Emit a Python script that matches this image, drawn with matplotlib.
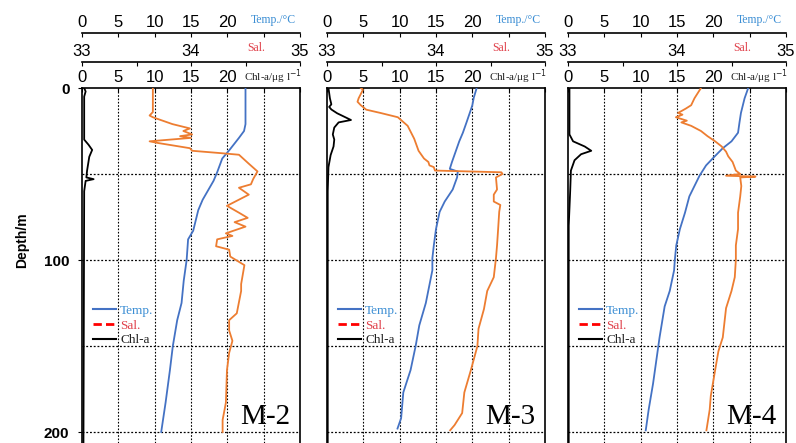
import numpy as np
import matplotlib
matplotlib.use("Agg")
import matplotlib.pyplot as plt
from matplotlib.lines import Line2D

# Station names
stations = ["M-2", "M-3", "M-4"]

# M-2 profiles (depth in m)
m2_temp_depth = [0, 21, 25, 29, 36, 41, 49, 54, 65, 71, 83, 88, 100, 112, 125, 135, 150, 164, 183, 200]
m2_temp = [22.5, 22.5, 22.3, 21.6, 20.3, 19.3, 18.6, 18.1, 16.6, 16.0, 15.3, 14.6, 14.4, 14.0, 13.7, 13.1, 12.5, 12.1, 11.5, 10.9]
m2_sal_depth = [0, 14, 16, 17, 21, 23.5, 25, 27, 28, 29, 31, 32, 35, 36.5, 37.8, 38.8, 44, 48.5, 53, 56,
                58, 62, 68.5, 72.5, 75.5, 78, 80.6, 84.5, 86, 88, 92, 94, 98, 103, 114, 118, 131, 135, 141, 147,
                154, 164, 183, 193, 200]
m2_sal = [33.65, 33.65, 33.62, 33.65, 33.83, 33.99, 33.93, 34.01, 33.90, 34.00, 33.62, 33.70, 33.99, 34.01, 34.26, 34.44, 34.53, 34.61, 34.57, 34.55,
          34.44, 34.53, 34.33, 34.44, 34.52, 34.40, 34.50, 34.32, 34.38, 34.24, 34.23, 34.35, 34.36, 34.49, 34.46, 34.46, 34.42, 34.35, 34.35, 34.38,
          34.35, 34.33, 34.32, 34.29, 34.29]
m2_chl_depth = [0, 2, 5, 30, 33, 36, 40, 48, 52, 53, 54, 60, 206]
m2_chl = [0.3, 0.5, 0.3, 0.3, 0.9, 1.4, 1.0, 0.7, 0.6, 1.6, 0.5, 0.3, 0.2]

# M-3 profiles
m3_temp_depth = [0, 5.6, 10, 12.6, 20, 26, 31, 37, 43, 47, 48.6, 52, 59, 66, 72, 82, 91.5, 99, 106, 125, 138, 150, 164, 177, 192, 198]
m3_temp = [20.6, 20.2, 20.0, 19.8, 19.2, 18.7, 18.2, 17.7, 17.2, 16.9, 18.0, 17.9, 17.3, 16.2, 15.5, 15.0, 14.7, 14.5, 14.5, 13.6, 12.7, 12.2, 11.5, 10.5, 10.2, 9.7]
m3_sal_depth = [0, 1, 6, 8, 10, 12.6, 14.5, 17, 22, 29.5, 36.5, 41, 43, 45, 46, 48, 49, 50, 52, 59,
                62, 66, 68, 72, 82, 91.5, 99, 110, 118, 128.5, 140, 150, 164, 177, 189, 196, 199]
m3_sal = [33.31, 33.33, 33.29, 33.28, 33.31, 33.36, 33.49, 33.65, 33.74, 33.80, 33.84, 33.89, 33.93, 33.94, 33.98, 33.99, 34.60, 34.61, 34.55, 34.56,
          34.53, 34.53, 34.59, 34.58, 34.57, 34.56, 34.55, 34.53, 34.47, 34.44, 34.39, 34.38, 34.32, 34.26, 34.24, 34.17, 34.13]
m3_chl_depth = [0, 6, 9.5, 11, 12.5, 14.7, 18.6, 20, 23, 27, 30, 34, 39, 46, 60, 206]
m3_chl = [0.2, 0.4, 0.6, 0.3, 0.6, 1.4, 3.3, 1.6, 1.0, 0.8, 1.0, 0.9, 0.5, 0.2, 0.1, 0.1]

# M-4 profiles
m4_temp_depth = [0, 6, 14.5, 20, 26, 31, 35, 39.7, 45, 51, 57, 63, 72.5, 82, 91.5, 100, 106, 118, 127, 145, 160, 172, 187, 199]
m4_temp = [24.8, 24.3, 23.8, 23.6, 23.4, 22.5, 21.3, 20.2, 19.0, 18.1, 17.4, 16.7, 16.1, 15.4, 14.9, 14.7, 14.6, 14.0, 13.3, 12.6, 12.1, 11.7, 11.1, 10.7]
m4_sal_depth = [0, 3, 6, 10, 12, 14.5, 15.5, 17, 19, 20, 22, 25, 28, 31, 34, 37, 39.7, 43, 48, 50,
                51, 51.5, 52, 57, 63, 72.5, 82, 91.5, 100, 110, 118, 128, 145, 153, 164, 179, 187, 199]
m4_sal = [34.22, 34.19, 34.16, 34.13, 34.08, 34.01, 34.05, 33.99, 34.09, 34.04, 34.13, 34.22, 34.28, 34.35, 34.41, 34.45, 34.47, 34.51, 34.54, 34.58,
          34.45, 34.72, 34.58, 34.59, 34.58, 34.56, 34.56, 34.54, 34.54, 34.53, 34.50, 34.45, 34.42, 34.38, 34.35, 34.31, 34.30, 34.27]
m4_chl_depth = [0, 27, 31, 34, 36.5, 38.5, 42, 48, 60, 80, 206]
m4_chl = [0.2, 0.2, 0.7, 2.3, 3.2, 1.8, 0.9, 0.4, 0.3, 0.1, 0.1]

profiles = [
    (m2_temp_depth, m2_temp, m2_sal_depth, m2_sal, m2_chl_depth, m2_chl),
    (m3_temp_depth, m3_temp, m3_sal_depth, m3_sal, m3_chl_depth, m3_chl),
    (m4_temp_depth, m4_temp, m4_sal_depth, m4_sal, m4_chl_depth, m4_chl),
]

# Axis tick values
chl_ticks = [0, 5, 10, 15, 20, 25, 30]
chl_labels = ["0", "5", "10", "15", "20", "", ""]
sal_ticks = [33, 33.5, 34, 34.5, 35]
sal_labels = ["33", "", "34", "", "35"]
depth_ticks = [0, 100, 200]

TEMP_C = "#4472C4"
SAL_C = "#ED7D31"

W, H = 796, 443
fig = plt.figure(figsize=(W / 100, H / 100), dpi=100)

panel_left = [82, 327, 568]
panel_w = 218
top_px = 88
ax_h = H - top_px
depth_max = 200 + (H - 432) / 1.72

sans = "Liberation Sans"
serif = "Liberation Serif"

for i, name in enumerate(stations):
    td, tv, sd, sv, cd, cv = profiles[i]
    ax = fig.add_axes([panel_left[i] / W, 0, panel_w / W, ax_h / H])
    ax.set_xlim(0, 30)
    ax.set_ylim(depth_max, 0)

    # temperature and chl-a share the 0-30 scale
    ax.plot(tv, td, color=TEMP_C, lw=1.3, zorder=3)
    ax.plot(cv, cd, color="black", lw=1.3, zorder=3)

    sal_ax = ax.twiny()
    sal_ax.set_xlim(33, 35)
    sal_ax.plot(sv, sd, color=SAL_C, lw=1.3, zorder=3)
    sal_ax.set_axis_off()

    # grid
    for x in [5, 10, 15, 20, 25]:
        ax.axvline(x, color="black", lw=0.8, ls=(0, (1.5, 1.5)), zorder=1)
    for y in [50, 100, 150, 200]:
        ax.axhline(y, color="black", lw=0.9, ls=(0, (1.5, 1.5)), zorder=1)

    ax.spines["bottom"].set_visible(False)
    for s in ["left", "top", "right"]:
        ax.spines[s].set_linewidth(1.2)

    ax.xaxis.tick_top()
    ax.set_xticks(chl_ticks)
    ax.set_xticklabels(chl_labels, fontfamily=sans, fontsize=12)
    ax.tick_params(axis="x", direction="in", length=3, pad=2)

    ax.set_yticks(depth_ticks)
    if i == 0:
        ax.set_yticklabels([str(d) for d in depth_ticks], fontfamily=sans, fontsize=11, fontweight="bold")
        ax.tick_params(axis="y", direction="out", length=3, pad=6)
    else:
        ax.set_yticklabels([])
        ax.tick_params(axis="y", direction="out", length=0)

    # temperature scale line
    t_ax = ax.secondary_xaxis(1 + 55 / ax_h, functions=(lambda x: x, lambda x: x))
    t_ax.set_xticks(chl_ticks)
    t_ax.set_xticklabels(chl_labels, fontfamily=sans, fontsize=12)
    t_ax.tick_params(axis="x", direction="in", length=3, pad=2)
    t_ax.spines["top"].set_linewidth(1.2)

    # salinity scale line
    s_ax = ax.secondary_xaxis(1 + 26 / ax_h, functions=(lambda x: 33 + x / 15, lambda s: (s - 33) * 15))
    s_ax.set_xticks(sal_ticks)
    s_ax.set_xticklabels(sal_labels, fontfamily=sans, fontsize=12)
    s_ax.tick_params(axis="x", direction="in", length=3, pad=2)
    s_ax.spines["top"].set_linewidth(1.2)

    # unit labels
    ax.text(0.88, 1 + 68 / ax_h, "Temp./\u00b0C", transform=ax.transAxes, ha="center", va="center",
            color="#3D8FD4", fontfamily=serif, fontsize=8.5)
    ax.text(0.80, 1 + 40 / ax_h, "Sal.", transform=ax.transAxes, ha="center", va="center",
            color="#E0404A", fontfamily=serif, fontsize=8.5)
    ax.text(0.875, 1 + 11 / ax_h, "Chl-a/\u03bcg l$^{-1}$", transform=ax.transAxes, ha="center", va="center",
            color="#222222", fontfamily=serif, fontsize=8)

    # station label
    ax.text(0.955, 0.073, name, transform=ax.transAxes, ha="right", va="center",
            fontfamily=serif, fontsize=21)

    handles = [Line2D([], [], color=TEMP_C, lw=1.5),
               Line2D([], [], color="red", lw=2, ls=(0, (3, 1.5))),
               Line2D([], [], color="black", lw=1.5)]
    leg = ax.legend(handles, ["Temp.", "Sal.", "Chl-a"], loc="upper left", bbox_to_anchor=(0.0, 0.42),
                    frameon=False, prop={"family": serif, "size": 9.5}, handlelength=1.8,
                    handletextpad=0.3, labelspacing=0.2, borderpad=0.3)
    for txt, c in zip(leg.get_texts(), ["#3D8FD4", "#E0404A", "#222222"]):
        txt.set_color(c)

fig.text(22 / W, 1 - 240 / H, "Depth/m", rotation=90, ha="center", va="center",
         fontfamily=sans, fontsize=10, fontweight="bold")

fig.savefig("out.png", dpi=100)
